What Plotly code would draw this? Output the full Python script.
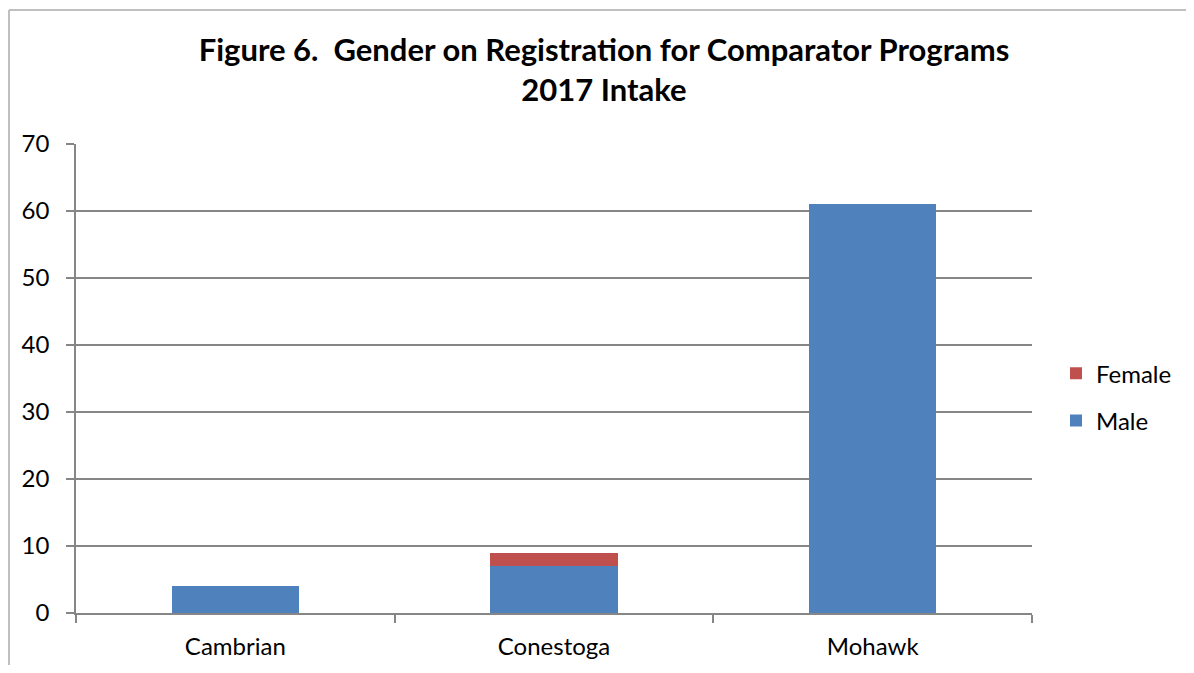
import plotly.graph_objects as go

colleges = ["Cambrian", "Conestoga", "Mohawk"]
male = [4, 7, 61]
female = [0, 2, 0]

OFF = 8  # page body margin offset
W, H = 1194 - 2 * OFF, 673 - 2 * OFF
L, T = 76 - OFF, 144 - OFF
R = W - (1032 - OFF)
B = H - (613 - OFF)
pw, ph = W - L - R, H - T - B

fig = go.Figure()
fig.add_trace(go.Bar(x=colleges, y=male, name="Male", marker_color="#4F81BD",
                     marker_line_width=0, legendgroup="m", legendrank=2))
fig.add_trace(go.Bar(x=colleges, y=female, name="Female", marker_color="#C0504D",
                     marker_line_width=0, legendgroup="f", legendrank=1))

fig.update_layout(
    width=W, height=H,
    margin=dict(l=L, r=R, t=T, b=B, autoexpand=False),
    barmode="stack",
    bargap=0.6,
    paper_bgcolor="white",
    plot_bgcolor="white",
    font=dict(family="Lato, Arial, sans-serif", size=24, color="black"),
    title=dict(
        text="Figure 6.  Gender on Registration for Comparator Programs<br>2017 Intake",
        x=(604 - OFF) / W, xanchor="center", y=1 - 53 / H, yanchor="top",
        font=dict(size=31, color="black", weight="bold"),
    ),
    legend=dict(
        x=(1056 - 76) / pw, xanchor="left",
        y=0.46, yanchor="middle",
        traceorder="grouped", tracegroupgap=13,
        font=dict(size=24),
        itemwidth=30,
        bgcolor="rgba(0,0,0,0)",
    ),
    showlegend=True,
)

fig.update_yaxes(
    range=[0, 70], dtick=10,
    showgrid=True, gridcolor="#868686", gridwidth=1.5,
    showline=True, linecolor="#868686", linewidth=1.5,
    ticks="outside", ticklen=8, tickcolor="#868686", tickwidth=1.5,
    ticklabelstandoff=12,
    zeroline=False,
)
fig.update_xaxes(
    showline=True, linecolor="#868686", linewidth=1.5,
    ticks="outside", ticklen=8, tickcolor="#868686", tickwidth=1.5,
    tickson="boundaries",
    ticklabelstandoff=11,
)

# chart-area border: only its left and top edges fall inside the picture
bx0, by1 = (9 - 76) / pw, (613 - 10) / ph
fig.add_shape(type="line", xref="paper", yref="paper",
              x0=bx0, x1=(W - 76 + OFF) / pw, y0=by1, y1=by1,
              line=dict(color="#BFBFBF", width=2), layer="below")
fig.add_shape(type="line", xref="paper", yref="paper",
              x0=bx0, x1=bx0, y0=by1, y1=-(H + OFF - 613 + OFF) / ph,
              line=dict(color="#BFBFBF", width=2), layer="below")

fig.write_html("out.html")
